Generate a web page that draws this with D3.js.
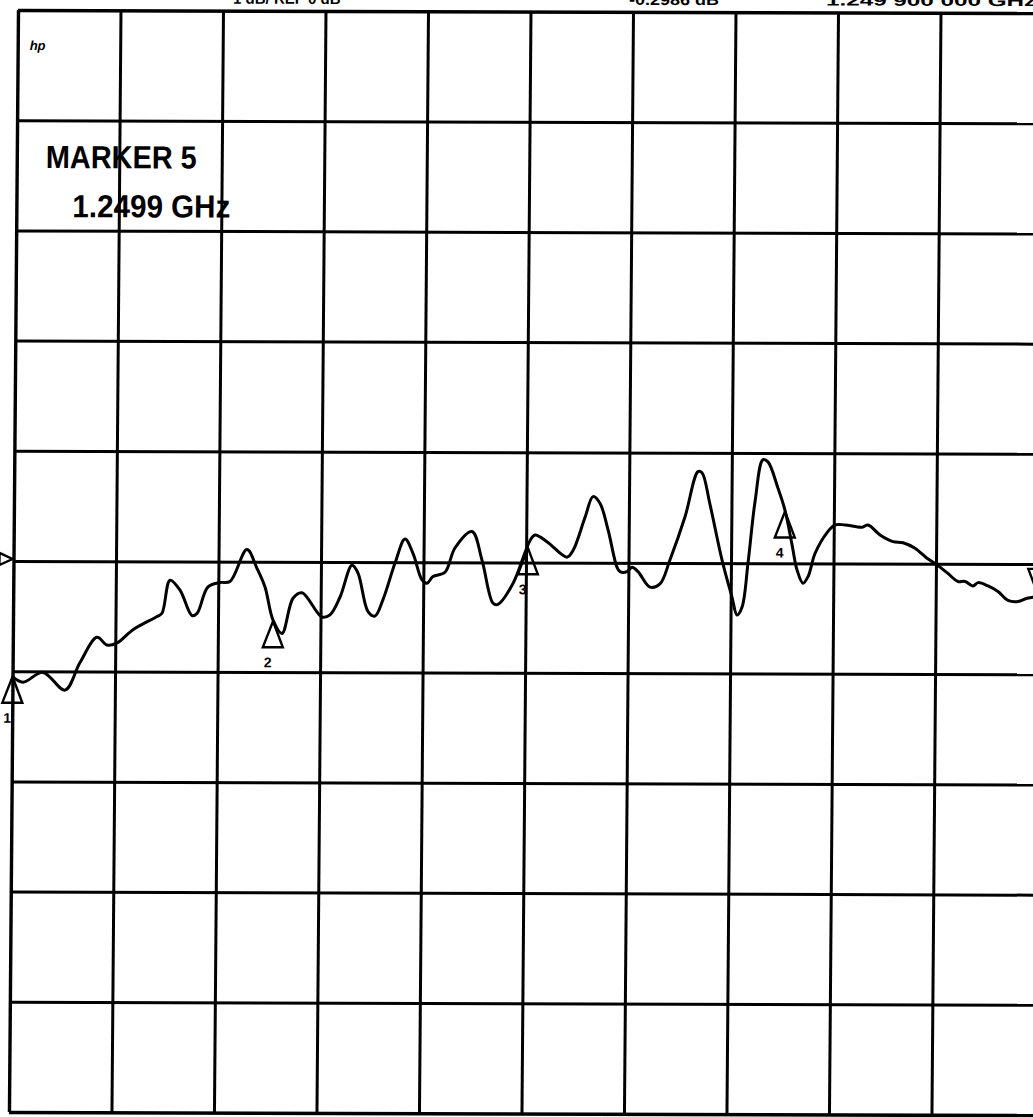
<!DOCTYPE html>
<html lang="en">
<head>
<meta charset="UTF-8">
<title>MARKER 5</title>
<script src="https://cdn.jsdelivr.net/npm/d3@7"></script>
<style>
  body { margin: 0; background: #fff; overflow: hidden; }
  text { font-family: "Liberation Sans", Arial, sans-serif; font-weight: bold; fill: #000; }
</style>
</head>
<body>
<script>
// trace: frequency (MHz) and magnitude (dB, ref line = 0 dB, 1 dB/div)
var freq = [250,260.2,279.7,301.3,315.7,332.1,341.9,351.6,367.2,390.5,
            395.3,402.9,412.7,424.6,429.5,440.0,451.7,461.4,477.7,487.6,
            495.6,503.7,512.5,523.0,531.7,551.4,559.2,568.8,580.3,586.2,
            596.3,603.1,610.8,622.2,631.8,639.7,648.7,653.6,659.4,671.1,
            680.6,697.1,707.1,718.2,723.0,737.5,749.0,753.8,758.6,770.3,
            790.0,795.8,807.2,814.9,821.7,829.8,838.8,841.8,848.6,853.5,
            859.4,871.2,880.9,890.5,904.8,917.1,921.0,929.1,941.2,951.3,
            956.3,961.1,966.6,973.0,980.4,985.3,995.3,1002.3,1009.4,1014.5,
            1020.4,1025.3,1031.9,1043.5,1051.2,1061.0,1077.6,1083.4,1095.2,1107.9,
            1117.7,1129.4,1141.2,1151.0,1160.8,1171.6,1178.5,1186.3,1191.2,1200.9,
            1210.7,1220.6,1230.3,1239.1,1244.9,1250];
var mag = [-1.05,-1.10,-1.01,-1.17,-0.92,-0.69,-0.76,-0.74,-0.62,-0.50,
           -0.47,-0.17,-0.26,-0.49,-0.47,-0.23,-0.19,-0.18,0.11,-0.06,
           -0.23,-0.53,-0.65,-0.33,-0.28,-0.50,-0.48,-0.32,-0.03,-0.10,
           -0.45,-0.49,-0.34,-0.01,0.21,0.08,-0.16,-0.19,-0.13,-0.09,
           0.13,0.28,0.02,-0.37,-0.38,-0.19,0.09,0.20,0.25,0.19,
           0.05,0.11,0.41,0.60,0.54,0.30,-0.04,-0.08,-0.08,-0.04,
           -0.08,-0.22,-0.19,0.03,0.42,0.83,0.82,0.53,0.03,-0.31,
           -0.47,-0.40,0.00,0.56,0.94,0.92,0.68,0.48,0.17,-0.06,
           -0.18,-0.12,0.09,0.28,0.35,0.35,0.33,0.35,0.26,0.20,
           0.19,0.14,0.05,-0.01,-0.08,-0.16,-0.16,-0.20,-0.17,-0.20,
           -0.25,-0.33,-0.34,-0.31,-0.30,-0.28];

var markerId = ["1","2","3","4","5"];
var markerFreq = [250, 503.7, 751.9, 1002.3, 1249.9];
var markerMag = [-1.05, -0.54, 0.13, 0.47, -0.28];

var freqTicks = d3.range(250, 1251, 100);
var magTicks = d3.range(-5, 5.01, 1);

var headerLeft = "1 dB/  REF 0 dB";
var headerMid = "-0.2986 dB";
var headerRight = "1.249 900 000 GHz";
var markerTitle = "MARKER 5";
var markerValue = "1.2499 GHz";

var width = 1033;
var height = 1117;

var svg = d3.select('body').append('svg').attr('width', width).attr('height', height);

// the scanned plot is slightly skewed
var g = svg.append('g').attr('transform', 'matrix(1,0.003,-0.0082,1,0.08,-0.05)');

var x = d3.scaleLinear().domain([250, 1250]).range([18, 1043]);
var y = d3.scaleLinear().domain([-5, 5]).range([1112, 10]);

// grid from axes
var xGrid = d3.axisBottom(x).tickValues(freqTicks).tickSize(-(y(-5) - y(5))).tickFormat('');
g.append('g').attr('transform', 'translate(0,' + y(-5) + ')').call(xGrid)
  .call(function (a) { a.select('.domain').remove(); })
  .selectAll('line')
  .attr('stroke', '#000')
  .attr('stroke-width', function (d, i) { return (i === 0) ? 3.4 : 3; });

var yGrid = d3.axisLeft(y).tickValues(magTicks).tickSize(-(x(1250) - x(250))).tickFormat('');
g.append('g').attr('transform', 'translate(' + x(250) + ',0)').call(yGrid)
  .call(function (a) { a.select('.domain').remove(); })
  .selectAll('line')
  .attr('stroke', '#000')
  .attr('stroke-width', function (d) { return (d === 5 || d === -5) ? 3.6 : 3; });

// header (cut off at the top of the scan)
g.append('text').attr('x', 233).attr('y', 3).attr('font-size', 15).text(headerLeft);
g.append('text').attr('x', 629).attr('y', 3).attr('font-size', 15)
  .attr('textLength', 90).attr('lengthAdjust', 'spacingAndGlyphs').text(headerMid);
g.append('text').attr('x', 826).attr('y', 3).attr('font-size', 15)
  .attr('textLength', 210).attr('lengthAdjust', 'spacingAndGlyphs').text(headerRight);

g.append('text').attr('x', 30).attr('y', 50).attr('font-size', 13)
  .attr('font-style', 'italic').text('hp');

g.append('text').attr('x', 47).attr('y', 168).attr('font-size', 32)
  .attr('textLength', 151).attr('lengthAdjust', 'spacingAndGlyphs').text(markerTitle);
g.append('text').attr('x', 74).attr('y', 217).attr('font-size', 32)
  .attr('textLength', 158).attr('lengthAdjust', 'spacingAndGlyphs').text(markerValue);

// reference position arrow
var y0 = y(0);
g.append('path')
  .attr('d', 'M4,' + (y0 - 8) + 'L17,' + (y0 - 2) + 'L4,' + (y0 + 4) + 'Z')
  .attr('fill', '#fff').attr('stroke', '#000').attr('stroke-width', 2.4);

// trace
var line = d3.line()
  .x(function (d, i) { return x(freq[i]); })
  .y(function (d, i) { return y(mag[i]); })
  .curve(d3.curveCatmullRom.alpha(0.5));

g.append('path').datum(mag)
  .attr('d', line)
  .attr('fill', 'none')
  .attr('stroke', '#000')
  .attr('stroke-width', 3)
  .attr('stroke-linejoin', 'round');

// markers
markerId.forEach(function (id, i) {
  var mx = x(markerFreq[i]);
  var my = y(markerMag[i]);
  var active = (i === markerId.length - 1);
  var d = active
    ? 'M' + mx + ',' + my + 'L' + (mx - 10) + ',' + (my - 26) + 'L' + (mx + 10) + ',' + (my - 26) + 'Z'
    : 'M' + mx + ',' + my + 'L' + (mx - 10) + ',' + (my + 26) + 'L' + (mx + 10) + ',' + (my + 26) + 'Z';
  g.append('path').attr('d', d)
    .attr('fill', 'none').attr('stroke', '#000').attr('stroke-width', 2.4);
  g.append('text')
    .attr('x', active ? mx + 2 : mx - 5)
    .attr('y', active ? my - 32 : my + 46)
    .attr('text-anchor', 'middle')
    .attr('font-size', 14)
    .text(id);
});
</script>
</body>
</html>
